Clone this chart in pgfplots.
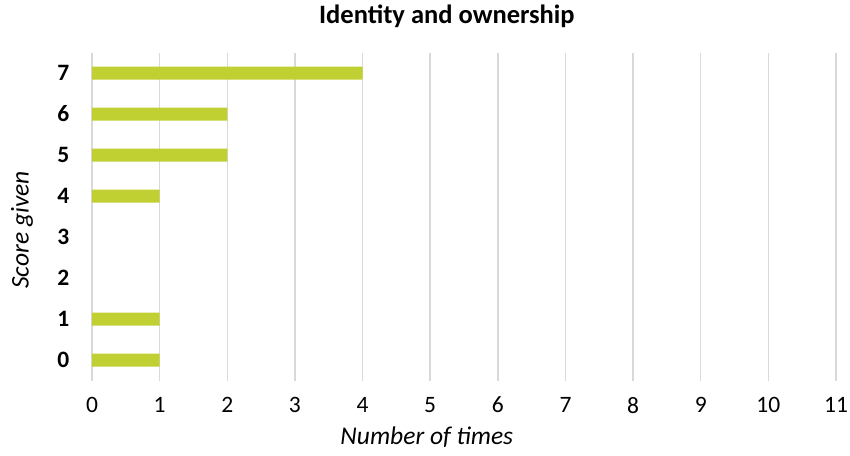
\documentclass[border=0pt]{standalone}
\usepackage{pgfplots}
\pgfplotsset{compat=1.18}
\usepackage{fontspec}
\setmainfont{Carlito}
\definecolor{barc}{HTML}{C0D032}
\definecolor{gridc}{HTML}{D9D9D9}
\begin{document}
\begin{tikzpicture}[x=1pt,y=1pt]
\path[use as bounding box] (-92,-74.5) rectangle (758,380.5);
\begin{axis}[
  at={(0,0)}, anchor=south west,
  scale only axis, width=744pt, height=328pt,
  xbar, bar width=13pt,
  xmin=0, xmax=11, ymin=-0.5, ymax=7.5,
  xtick={0,...,11}, ytick={0,...,7},
  xmajorgrids, major grid style={gridc, line width=1.4pt},
  axis line style={draw=none}, tick style={draw=none},
  /pgf/number format/assume math mode=true,
  tick label style={font=\fontsize{23.5}{28}\selectfont},
  yticklabel style={font=\fontsize{23.5}{28}\selectfont\bfseries, xshift=-15pt},
  xticklabel style={yshift=-13pt},
  title={\bfseries Identity and ownership},
  title style={font=\fontsize{26.5}{30}\selectfont, at={(axis description cs:0.477,1.092)}, anchor=center},
  xlabel={\itshape Number of times},
  xlabel style={font=\fontsize{25.5}{30}\selectfont, at={(axis description cs:0.45,-0.172)}, anchor=center},
  ylabel={\itshape Score given},
  ylabel style={font=\fontsize{25.5}{30}\selectfont, at={(axis description cs:-0.094,0.459)}, anchor=center},
]
\addplot[fill=barc, draw=none] coordinates {(1,0) (1,1) (1,4) (2,5) (2,6) (4,7)};
\end{axis}
\end{tikzpicture}
\end{document}
